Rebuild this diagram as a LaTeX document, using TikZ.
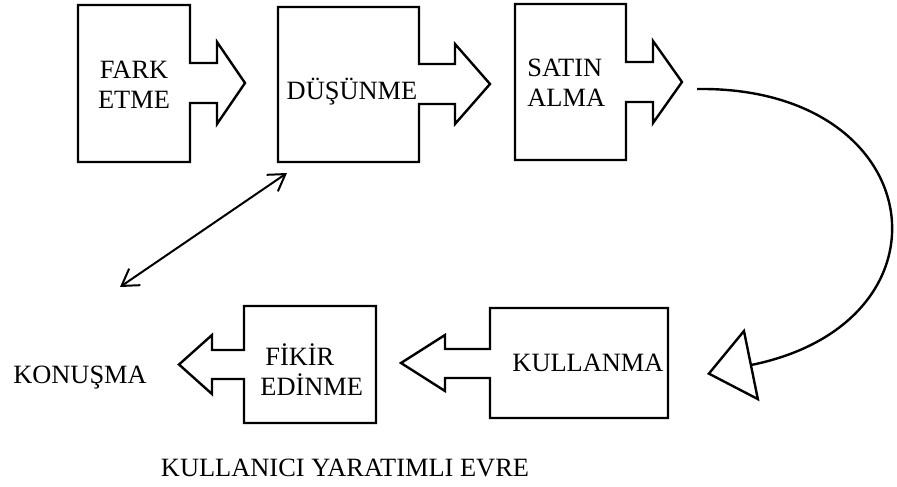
\documentclass[tikz,border=0pt]{standalone}
\usepackage{fontspec}
\setmainfont{Liberation Serif}
\usetikzlibrary{arrows.meta}

\tikzset{
  callout/.style={draw, line width=1.2pt, fill=white},
  lbl/.style={inner sep=0pt, font=\fontsize{13.2}{15}\selectfont},
  link/.style={line width=1pt, {Straight Barb[length=8pt,width=10pt]}-{Straight Barb[length=8pt,width=10pt]}},
  flow/.style={line width=1.2pt, -{Triangle[open,length=23pt,width=37pt]}},
}

\begin{document}
\begin{tikzpicture}[x=0.5pt,y=-0.5pt]
    %\draw[help lines] (0,0) grid (897,486);
    \useasboundingbox (0,0) rectangle (897,486);
    % top row, arrows to the right
    \draw[callout] (78,5) -- (190,5) -- (190,63) -- (217,63) -- (217,42) -- (245,83)
       -- (217,124) -- (217,103) -- (190,103) -- (190,162) -- (78,162) -- cycle;
    \draw[callout] (278,7) -- (419,7) -- (419,64) -- (455,64) -- (455,44) -- (490,84)
       -- (455,124) -- (455,104) -- (419,104) -- (419,162) -- (278,162) -- cycle;
    \draw[callout] (515,4) -- (626,4) -- (626,62) -- (653,62) -- (653,41) -- (682,82)
       -- (653,123) -- (653,102) -- (626,102) -- (626,160) -- (515,160) -- cycle;
    % bottom row, arrows to the left
    \draw[callout] (668,308) -- (490,308) -- (490,349) -- (445,349) -- (445,335) -- (401,363)
       -- (445,391) -- (445,378) -- (490,378) -- (490,418) -- (668,418) -- cycle;
    \draw[callout] (376,306) -- (244,306) -- (244,350) -- (212,350) -- (212,335) -- (179,364.5)
       -- (212,394) -- (212,379) -- (244,379) -- (244,423) -- (376,423) -- cycle;

    \node[lbl,align=center] (fark) at (134,84.5) {FARK\\ETME};
    \node[lbl,anchor=base] (dusunme) at (352,99.3) {DÜŞÜNME};
    \node[lbl,align=left,anchor=west] (satin) at (527,82.5) {SATIN\\ALMA};
    \node[lbl,anchor=base] (kullanma) at (588,371.7) {KULLANMA};
    \node[lbl,align=left,anchor=west] (fikir) at (260,370) {\hspace{2.5pt}FİKİR\\EDİNME};
    \node[lbl,anchor=base] (konusma) at (80,383.3) {KONUŞMA};
    \node[lbl,anchor=base] (evre) at (345,476.7) {KULLANICI YARATIMLI EVRE};

    % connectors
    \coordinate (dusLow) at (287,173);
    \coordinate (konUp) at (120,287);
    \draw[link] (konUp) -- (dusLow);
    \coordinate (satinOut) at (697,89);
    \coordinate (kulIn) at (707,374);
    \draw[flow] (satinOut) .. controls (930,86) and (962,322) .. (kulIn);
\end{tikzpicture}
\end{document}
